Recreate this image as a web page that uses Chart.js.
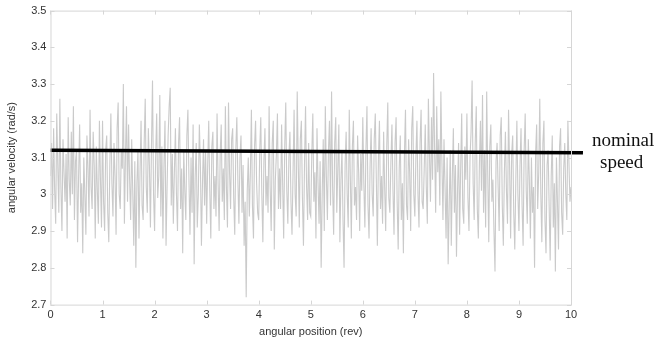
<!DOCTYPE html>
<html>
<head>
<meta charset="utf-8">
<script src="https://cdn.jsdelivr.net/npm/chart.js@4"></script>
<style>
  body { margin: 0; background: #fff; }
  .chart_div { width: 657px; height: 337px; }
</style>
</head>
<body>
<div class="chart_div"><canvas id="myChart"></canvas></div>
<script>
// angular velocity, one value every 0.02 rev
const step = 0.02;
const rev0 = [3.05,3.14,2.96,3.18,3.01,2.92,3.22,3.08,2.95,3.26, 3.02,2.90,3.15,3.06,2.98,3.11,2.88,3.21,3.04,2.97,
              3.17,3.00,3.24,2.93,3.09,3.12,2.87,3.05,3.19,2.95, 3.03,2.84,3.10,3.00,2.89,3.16,3.07,2.94,3.23,3.02,
              2.96,3.17,3.08,2.88,3.13,3.01,2.92,3.20,3.04,2.91];
const rev1 = [3.20,2.98,2.90,3.12,3.16,2.95,2.87,3.08,3.22,3.03, 2.94,3.14,3.05,2.89,3.18,3.25,3.00,2.96,3.12,3.07,
              3.30,2.92,3.10,3.24,2.98,3.19,3.04,2.93,3.15,3.01, 2.86,3.09,2.80,3.03,3.12,2.88,3.06,3.20,2.97,2.93,
              3.14,3.26,3.02,2.95,3.18,3.08,2.91,3.13,3.31,3.00];
const rev2 = [2.90,3.10,3.22,2.99,3.05,3.27,2.94,3.13,2.88,3.08, 3.20,2.86,3.02,3.16,3.24,3.29,2.97,3.11,2.92,3.06,
              3.18,3.00,2.90,3.14,3.21,2.96,3.07,2.84,3.12,3.01, 2.93,3.16,3.23,3.04,2.89,3.10,2.95,3.19,2.81,3.05,
              3.14,2.91,3.00,3.19,3.08,2.86,3.03,3.15,2.97,3.12];
const rev3 = [2.92,3.08,3.20,3.01,2.88,3.13,3.17,2.96,3.05,2.94, 3.22,3.03,2.90,3.11,3.19,2.98,3.07,2.93,3.24,3.02,
              2.91,3.25,3.06,2.96,3.15,3.18,2.99,2.89,3.12,3.21, 3.04,2.92,3.10,3.16,2.95,3.08,2.86,2.98,2.72,3.01,
              3.10,2.94,3.06,3.23,2.97,2.88,3.13,3.20,3.03,2.95];
const rev4 = [2.93,3.12,3.21,3.00,2.87,3.09,3.18,2.97,3.05,2.95, 3.24,3.02,2.90,3.14,3.20,2.85,3.04,3.11,3.22,2.96,
              3.07,2.96,3.19,3.03,2.88,3.13,3.25,3.01,2.92,3.10, 3.17,2.98,2.89,3.06,3.23,3.00,2.94,3.28,3.09,2.91,
              3.15,3.20,2.99,2.86,3.08,3.24,3.02,2.93,3.14,2.95];
const rev5 = [2.94,3.11,3.22,2.98,3.06,2.88,3.18,3.03,2.92,3.09, 2.80,3.00,3.15,2.90,3.24,3.05,2.93,3.12,3.20,2.97,
              3.28,3.02,2.89,3.14,3.21,2.95,3.07,3.19,2.87,3.04, 3.12,2.93,2.80,3.08,3.17,3.00,2.91,3.23,3.05,2.88,
              3.13,3.20,2.97,3.02,2.93,3.16,3.06,2.90,3.11,3.01];
const rev6 = [3.21,3.03,2.91,3.12,3.24,2.97,2.88,3.08,3.18,3.00, 2.94,3.15,3.22,3.04,2.86,3.10,3.20,2.96,3.05,2.92,
              3.17,3.02,2.90,3.13,3.25,2.99,2.95,3.09,3.19,3.01, 2.89,3.14,3.21,2.98,2.85,3.07,3.16,2.93,3.03,2.84,
              3.11,3.23,2.97,2.93,3.15,3.06,2.90,3.18,3.24,3.00];
const rev7 = [2.94,3.10,3.20,3.00,2.91,3.14,3.23,2.98,2.96,3.07, 3.19,3.02,2.92,3.26,3.11,2.98,3.21,3.04,3.33,3.12,
              2.95,3.24,3.06,3.15,2.97,3.28,3.09,2.93,3.15,3.02, 2.88,3.10,2.81,2.97,3.12,2.86,3.05,3.18,2.95,3.08,
              2.83,3.01,3.14,2.89,3.07,3.22,2.96,2.92,3.13,3.04];
const rev8 = [3.22,2.99,2.90,3.10,3.17,3.31,3.03,2.93,3.14,3.24, 2.96,2.88,3.08,3.20,3.01,3.27,2.95,3.12,2.91,3.28,
              3.06,2.87,3.13,3.19,2.98,3.04,2.90,2.79,3.09,3.14, 3.02,2.90,3.16,3.21,2.97,2.86,3.06,3.17,3.01,2.92,
              3.23,3.08,2.88,3.11,3.16,2.95,2.85,3.04,3.20,3.00];
const rev9 = [2.90,3.08,3.18,2.97,2.86,3.12,3.22,3.01,2.92,3.15, 3.04,2.88,3.10,2.95,3.02,2.80,3.11,3.19,2.96,3.06,
              3.26,3.00,2.87,3.14,3.20,2.93,2.84,3.08,3.12,2.97, 2.82,3.05,3.16,2.91,3.03,2.79,3.10,2.98,2.85,3.13,
              3.18,2.95,2.89,3.07,3.14,3.00,2.93,3.20,3.09,2.98, 3.02];

const velocity = [].concat(rev0, rev1, rev2, rev3, rev4, rev5, rev6, rev7, rev8, rev9);

// nominal speed line (runs a bit past the right edge, up to the label)
const nominalX = [0, 10.23];
const nominalY = [3.12, 3.113];

const xTicks = [0, 1, 2, 3, 4, 5, 6, 7, 8, 9, 10];
const yTicks = [2.7, 2.8, 2.9, 3.0, 3.1, 3.2, 3.3, 3.4, 3.5];

const tracePoints = velocity.map((v, i) => ({ x: +(i * step).toFixed(2), y: v }));
const nominalPoints = nominalX.map((x, i) => ({ x: x, y: nominalY[i] }));

// light box round the plot + small inward tick marks, like the matlab axes
const boxPlugin = {
    id: 'box',
    afterDraw(chart) {
        const ctx = chart.ctx;
        const a = chart.chartArea;
        const xs = chart.scales.x;
        const ys = chart.scales.y;
        ctx.save();
        ctx.strokeStyle = '#d6d6d6';
        ctx.lineWidth = 1;
        ctx.strokeRect(a.left + 0.5, a.top + 0.5, a.right - a.left, a.bottom - a.top);
        ctx.beginPath();
        xTicks.forEach(t => {
            const px = Math.round(xs.getPixelForValue(t)) + 0.5;
            ctx.moveTo(px, a.bottom); ctx.lineTo(px, a.bottom - 4);
            ctx.moveTo(px, a.top); ctx.lineTo(px, a.top + 4);
        });
        yTicks.forEach(t => {
            const py = Math.round(ys.getPixelForValue(t)) + 0.5;
            ctx.moveTo(a.left, py); ctx.lineTo(a.left + 4, py);
            ctx.moveTo(a.right, py); ctx.lineTo(a.right - 4, py);
        });
        ctx.stroke();

        ctx.fillStyle = '#111';
        ctx.font = '19px "Liberation Serif", "DejaVu Serif", serif';
        ctx.textBaseline = 'alphabetic';
        ctx.textAlign = 'left';
        ctx.fillText('nominal', a.right + 21, a.top + 135);
        ctx.fillText('speed', a.right + 29, a.top + 157);
        ctx.restore();
    }
};

const ctx = document.getElementById('myChart');
var chart = new Chart(ctx, {
    type: 'line',
    data: {
        datasets: [{
            label: 'nominal speed',
            data: nominalPoints,
            borderColor: '#000',
            borderWidth: 3.5,
            pointRadius: 0,
            clip: false
        }, {
            label: 'angular velocity',
            data: tracePoints,
            borderColor: 'rgba(150, 150, 150, 0.5)',
            borderWidth: 1.1,
            pointRadius: 0,
            tension: 0
        }]
    },
    options: {
        responsive: true,
        maintainAspectRatio: false,
        animation: false,
        layout: { padding: { top: 8, right: 86, left: 4, bottom: -2 } },
        plugins: {
            legend: { display: false },
            tooltip: { enabled: false }
        },
        scales: {
            x: {
                type: 'linear',
                min: 0,
                max: 10,
                afterBuildTicks: (s) => { s.ticks = xTicks.map(v => ({ value: v })); },
                ticks: {
                    color: '#333',
                    font: { family: 'Liberation Sans, Arial, sans-serif', size: 11 },
                    padding: 4,
                    maxRotation: 0
                },
                grid: { display: false, drawTicks: false },
                border: { display: false },
                title: {
                    display: true,
                    text: 'angular position (rev)',
                    color: '#333',
                    font: { family: 'Liberation Sans, Arial, sans-serif', size: 11 },
                    padding: { top: 0, bottom: 0 }
                }
            },
            y: {
                min: 2.7,
                max: 3.5,
                afterBuildTicks: (s) => { s.ticks = yTicks.map(v => ({ value: v })); },
                ticks: {
                    color: '#333',
                    font: { family: 'Liberation Sans, Arial, sans-serif', size: 11 },
                    padding: 4,
                    callback: (v) => String(+(+v).toFixed(1))
                },
                grid: { display: false, drawTicks: false },
                border: { display: false },
                title: {
                    display: true,
                    text: 'angular velocity (rad/s)',
                    color: '#333',
                    font: { family: 'Liberation Sans, Arial, sans-serif', size: 11 },
                    padding: { top: 1, bottom: 9 }
                }
            }
        }
    },
    plugins: [boxPlugin]
});
</script>
</body>
</html>
